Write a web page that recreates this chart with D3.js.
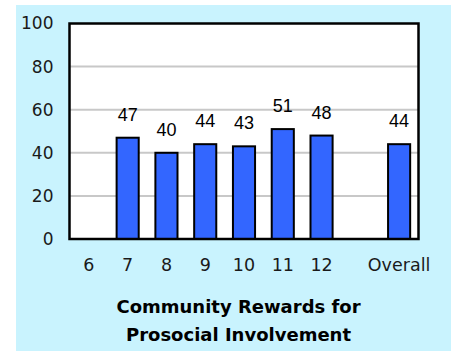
<!DOCTYPE html>
<html>
<head>
<meta charset="utf-8">
<script src="https://cdn.jsdelivr.net/npm/d3@7"></script>
<style>
  html, body { margin: 0; padding: 0; background: #ffffff; }
  svg { display: block; }
</style>
</head>
<body>
<svg id="chart" width="451" height="351"></svg>
<script>
// Grades surveyed plus an empty slot before the overall bar
const categories = ["6", "7", "8", "9", "10", "11", "12", "gap", "Overall"];
const values = [null, 47, 40, 44, 43, 51, 48, null, 44];
const yTicks = [0, 20, 40, 60, 80, 100];
const titleLines = ["Community Rewards for", "Prosocial Involvement"];

const svg = d3.select("#chart");

// Panel background
svg.append("rect")
  .attr("x", 16).attr("y", 5)
  .attr("width", 451 - 16).attr("height", 351 - 5)
  .attr("fill", "#c9f3fe");

const plot = { left: 69.5, top: 23.5, right: 418.5, bottom: 239 };

const x = d3.scaleBand()
  .domain(categories)
  .range([plot.left, plot.right])
  .paddingInner(0.43)
  .paddingOuter(0.215);

const y = d3.scaleLinear()
  .domain([0, 100])
  .range([plot.bottom, plot.top]);

// Plot area
svg.append("rect")
  .attr("x", plot.left).attr("y", plot.top)
  .attr("width", plot.right - plot.left).attr("height", plot.bottom - plot.top)
  .attr("fill", "#ffffff");

// Horizontal gridlines
svg.append("g")
  .selectAll("line")
  .data(yTicks.filter(t => t > 0 && t < 100))
  .join("line")
  .attr("x1", plot.left).attr("x2", plot.right)
  .attr("y1", d => y(d)).attr("y2", d => y(d))
  .attr("stroke", "#c8c8c8")
  .attr("stroke-width", 2);

// Bars
const data = categories.map((c, i) => ({ cat: c, value: values[i] }))
  .filter(d => d.value != null);

svg.append("g")
  .selectAll("rect")
  .data(data)
  .join("rect")
  .attr("x", d => x(d.cat))
  .attr("y", d => y(d.value))
  .attr("width", x.bandwidth())
  .attr("height", d => y(0) - y(d.value))
  .attr("fill", "#3366ff")
  .attr("stroke", "#000000")
  .attr("stroke-width", 2);

// Value labels
svg.append("g")
  .selectAll("text")
  .data(data)
  .join("text")
  .attr("x", d => x(d.cat) + x.bandwidth() / 2)
  .attr("y", d => y(d.value) - 17)
  .attr("text-anchor", "middle")
  .attr("font-family", "'Liberation Sans', Arial, sans-serif")
  .attr("font-size", 18)
  .attr("fill", "#000000")
  .text(d => d.value);

// Plot frame
svg.append("rect")
  .attr("x", plot.left).attr("y", plot.top)
  .attr("width", plot.right - plot.left).attr("height", plot.bottom - plot.top)
  .attr("fill", "none")
  .attr("stroke", "#000000")
  .attr("stroke-width", 2.5);

const labelFont = "'Century Gothic', 'DejaVu Sans', sans-serif";

// Y axis
const yAxis = svg.append("g")
  .attr("transform", `translate(${plot.left},0)`)
  .call(d3.axisLeft(y).tickValues(yTicks).tickSize(0).tickPadding(16));
yAxis.select(".domain").remove();
yAxis.selectAll("text")
  .attr("font-family", labelFont)
  .attr("font-size", 17)
  .attr("fill", "#1a1a1a");

// X axis
const xAxis = svg.append("g")
  .attr("transform", `translate(0,${plot.bottom})`)
  .call(d3.axisBottom(x).tickSize(0).tickPadding(20)
    .tickFormat(d => d === "gap" ? "" : d));
xAxis.select(".domain").remove();
xAxis.selectAll("text")
  .attr("font-family", labelFont)
  .attr("font-size", 17.5)
  .attr("fill", "#1a1a1a");

// Axis title
svg.append("g")
  .selectAll("text")
  .data(titleLines)
  .join("text")
  .attr("x", 238.5)
  .attr("y", (d, i) => 312.5 + i * 28)
  .attr("text-anchor", "middle")
  .attr("font-family", labelFont)
  .attr("font-weight", "bold")
  .attr("font-size", 18)
  .attr("fill", "#000000")
  .text(d => d);
</script>
</body>
</html>
